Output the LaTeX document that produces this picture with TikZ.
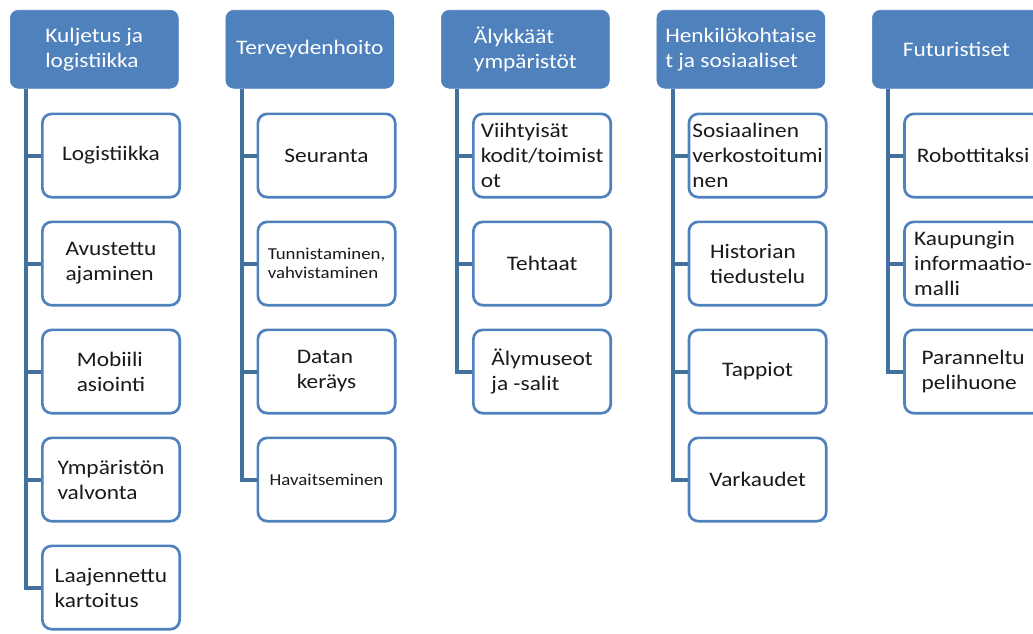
\documentclass[tikz,border=0pt]{standalone}
\usepackage{fontspec}
\setmainfont{Carlito}[FakeStretch=1.13]
\usetikzlibrary{positioning}
\definecolor{hdrblue}{HTML}{4F81BD}
\definecolor{lineblue}{HTML}{41719C}
\definecolor{txtcol}{HTML}{1A1A1A}
\tikzset{
  hdr/.style={rectangle, rounded corners=6pt, fill=hdrblue, draw=hdrblue, text=white,
    minimum width=126pt, minimum height=58.5pt, align=left, anchor=north west,
    font=\fontsize{15.5}{18.75}\selectfont},
  item/.style={rectangle, rounded corners=7pt, draw=hdrblue, line width=2pt, fill=white,
    text=txtcol, minimum width=103pt, minimum height=62.5pt, align=left, inner xsep=1pt,
    font=\fontsize{15.5}{18.75}\selectfont},
  small/.style={font=\fontsize{12.5}{14.5}\selectfont},
  conn/.style={draw=lineblue, line width=3pt},
}

\begin{document}
\begin{tikzpicture}[node distance=16.5pt]
\useasboundingbox (0pt,0pt) rectangle (774.75pt,-475.5pt);
\clip (0pt,0pt) rectangle (774.75pt,-475.5pt);

% headers
\node (h1) [hdr] at (7.5pt,-7.5pt) {Kuljetus ja\\logistiikka};
\node (h2) [hdr, right=35.25pt of h1.north east, anchor=north west] {Terveydenhoito};
\node (h3) [hdr, right=35.25pt of h2.north east, anchor=north west] {Älykkäät\\ympäristöt};
\node (h4) [hdr, right=35.25pt of h3.north east, anchor=north west] {Henkilökohtaise\\t ja sosiaaliset};
\node (h5) [hdr, right=35.25pt of h4.north east, anchor=north west] {Futuristiset};

% Kuljetus ja logistiikka
\node (k1) [item, below right=18pt and 23.25pt of h1.south west, anchor=north west] {Logistiikka};
\node (k2) [item, below=of k1] {Avustettu\\ajaminen};
\node (k3) [item, below=of k2] {Mobiili\\asiointi};
\node (k4) [item, below=of k3] {Ympäristön\\valvonta};
\node (k5) [item, below=of k4] {Laajennettu\\kartoitus};

% Terveydenhoito
\node (t1) [item, below right=18pt and 23.25pt of h2.south west, anchor=north west] {Seuranta};
\node (t2) [item, small, below=of t1] {Tunnistaminen,\\vahvistaminen};
\node (t3) [item, below=of t2] {Datan\\keräys};
\node (t4) [item, small, below=of t3] {Havaitseminen};

% Älykkäät ympäristöt
\node (a1) [item, below right=18pt and 23.25pt of h3.south west, anchor=north west] {Viihtyisät\\kodit/toimist\\ot};
\node (a2) [item, below=of a1] {Tehtaat};
\node (a3) [item, below=of a2] {Älymuseot\\ja -salit};

% Henkilökohtaiset ja sosiaaliset
\node (s1) [item, below right=18pt and 23.25pt of h4.south west, anchor=north west] {Sosiaalinen\\verkostoitumi\\nen};
\node (s2) [item, below=of s1] {Historian\\tiedustelu};
\node (s3) [item, below=of s2] {Tappiot};
\node (s4) [item, below=of s3] {Varkaudet};

% Futuristiset
\node (f1) [item, below right=18pt and 23.25pt of h5.south west, anchor=north west] {Robottitaksi};
\node (f2) [item, below=of f1] {Kaupungin\\informaatio-\\malli};
\node (f3) [item, below=of f2] {Paranneltu\\pelihuone};

% connectors
\foreach \h/\list in {h1/{k1,k2,k3,k4,k5}, h2/{t1,t2,t3,t4}, h3/{a1,a2,a3}, h4/{s1,s2,s3,s4}, h5/{f1,f2,f3}}
  \foreach \c in \list
    \draw [conn] ([xshift=12pt]\h.south west) |- (\c.west);

\end{tikzpicture}
\end{document}
